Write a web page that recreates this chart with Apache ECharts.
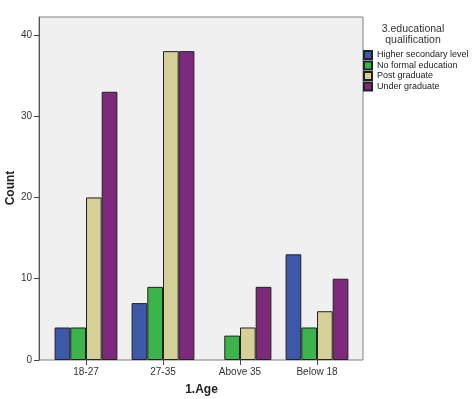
<!DOCTYPE html>
<html><head><meta charset="utf-8">
<script src="https://cdn.jsdelivr.net/npm/echarts@6/dist/echarts.min.js"></script>
<style>html,body{margin:0;padding:0;background:#fff}#c{width:473px;height:399px}</style>
</head><body><div id="c"></div>
<script>
const categories = ['18-27', '27-35', 'Above 35', 'Below 18'];
const seriesNames = ['Higher secondary level', 'No formal education', 'Post graduate', 'Under graduate'];
const higherSecondary = [4, 7, 0, 13];
const noFormal = [4, 9, 3, 4];
const postGraduate = [20, 38, 4, 6];
const underGraduate = [33, 38, 9, 10];
const yTicks = [0, 10, 20, 30, 40];
const colors = ['#3d58a8', '#3bb44b', '#d5cf98', '#7d2a7c'];
const values = [higherSecondary, noFormal, postGraduate, underGraduate];

const FONT = 'Liberation Sans, Arial, sans-serif';
const yMax = 42.2;
const chart = echarts.init(document.getElementById('c'), null, {renderer: 'canvas'});
chart.setOption({
  animation: false,
  textStyle: {fontFamily: FONT},
  grid: [
    {left: 39, top: 17, width: 324, height: 343, show: true, backgroundColor: '#f0f0f0', borderColor: '#808080', borderWidth: 1, containLabel: false, outerBoundsMode: 'none'},
    {left: 47.5, top: 17, width: 308, height: 343, containLabel: false, outerBoundsMode: 'none'}
  ],
  xAxis: [
    {gridIndex: 0, type: 'value', show: false, min: 0, max: 1},
    {gridIndex: 1, type: 'category', data: categories,
     axisLine: {show: false},
     axisTick: {show: true, alignWithLabel: true, length: 5, lineStyle: {color: '#444'}},
     axisLabel: {fontSize: 10, color: '#333', margin: 7, fontFamily: FONT},
     name: '1.Age', nameLocation: 'middle', nameGap: 24,
     nameTextStyle: {fontSize: 12, fontWeight: 'bold', color: '#222', fontFamily: FONT}}
  ],
  yAxis: [
    {gridIndex: 0, type: 'value', min: 0, max: yMax,
     axisLine: {show: true, lineStyle: {color: '#555'}},
     axisTick: {show: true, length: 5, lineStyle: {color: '#444'}, customValues: yTicks},
     axisLabel: {fontSize: 10, color: '#333', margin: 7, customValues: yTicks, fontFamily: FONT},
     splitLine: {show: false}},
    {gridIndex: 1, type: 'value', min: 0, max: yMax, show: false}
  ],
  legend: {
    orient: 'vertical', left: 363, top: 50, padding: 0,
    itemWidth: 8, itemHeight: 8, itemGap: 0.5, icon: 'rect',
    textStyle: {fontSize: 9, color: '#222', lineHeight: 10, fontFamily: FONT},
    data: seriesNames
  },
  graphic: [{
    type: 'text', x: 413, y: 24,
    style: {text: '3.educational\nqualification', textAlign: 'center', fontSize: 10.5, lineHeight: 11, fill: '#333', fontFamily: FONT}
  }, {
    type: 'text', x: 11, y: 188, rotation: Math.PI / 2,
    style: {text: 'Count', textAlign: 'center', textVerticalAlign: 'middle', fontSize: 12, fontWeight: 'bold', fill: '#222', fontFamily: FONT}
  }],
  series: seriesNames.map((n, i) => ({
    name: n, type: 'bar', xAxisIndex: 1, yAxisIndex: 1,
    data: values[i].map(v => v === 0 ? {value: v, itemStyle: {borderWidth: 0}} : v),
    barWidth: 15.7, barGap: '0%',
    itemStyle: {color: colors[i], borderColor: '#222', borderWidth: 1}
  }))
});
</script></body></html>
